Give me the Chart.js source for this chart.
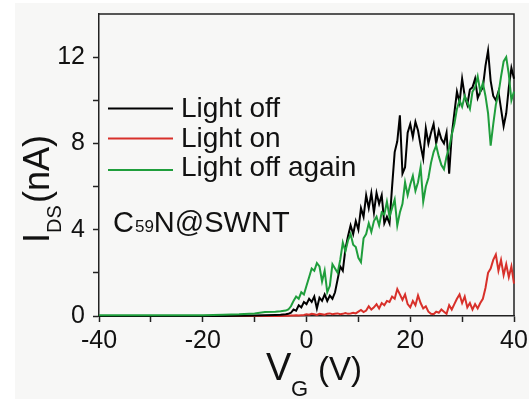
<!DOCTYPE html>
<html><head><meta charset="utf-8">
<script src="https://cdn.jsdelivr.net/npm/chart.js@4.4.1/dist/chart.umd.min.js"></script>
<style>html,body{margin:0;padding:0;background:#fff;overflow:hidden}#wrap{width:529px;height:399px}</style>
</head><body><div id="wrap"><canvas id="c" width="529" height="399"></canvas></div>
<script>
// ---- data ----
const vG = [-40,-35,-30,-25,-20,-16,-13,-10,-8,-6,-5,-4,-3.5,-3,
  -2.5,-2,-1.5,-1,-0.5,0,0.5,1,1.5,2,2.5,3,3.5,4,4.5,5,5.5,6,6.5,7,7.5,8,8.5,9,9.5,10,
  10.5,11,11.5,12,12.5,13,13.5,14,14.5,15,15.5,16,16.5,17,17.5,18,18.5,19,19.5,20,
  20.5,21,21.5,22,22.5,23,23.5,24,24.5,25,25.5,26,26.5,27,27.5,28,28.5,29,29.5,30,
  30.5,31,31.5,32,32.5,33,33.5,34,34.5,35,35.5,36,36.5,37,37.5,38,38.5,39,39.5,40];
const iLightOff = [0,0,0,0,0,0,0.01,0.02,0.03,0.05,0.06,0.08,0.1,0.15,
  0.3,0.25,0.5,0.4,0.65,0.55,0.8,0.65,0.9,0.35,0.85,0.7,1.0,0.7,0.95,0.8,1.1,1.7,2.3,2.1,3.1,3.7,4.2,3.8,4.4,4.0,
  5.0,4.6,5.6,5.0,5.7,4.8,5.7,5.2,5.6,4.3,4.6,4.3,6.0,7.6,8.1,9.3,6.6,6.9,8.5,8.9,
  8.3,9.0,8.6,7.9,7.3,8.7,8.0,8.5,8.9,8.0,8.6,8.2,8.0,8.5,6.6,8.4,9.4,10.4,9.9,11.0,
  10.2,9.8,10.5,10.6,11.0,10.1,10.4,10.6,11.6,12.3,10.9,10.2,10.0,10.4,9.6,8.8,9.4,10.6,11.5,11.0];
const iLightOn = [0,0,0,0,0,0,0,0,0,0,0,0.01,0.01,0.02,
  0.02,0.03,0.02,0.04,0.05,0.08,0.06,0.1,0.08,0.05,0.1,0.08,0.06,0.1,0.12,0.08,0.1,0.12,0.08,0.1,0.14,0.1,0.12,0.15,0.12,0.2,
  0.28,0.18,0.25,0.45,0.3,0.4,0.55,0.35,0.6,0.5,0.7,0.65,0.9,0.8,1.25,1.0,0.75,1.0,0.55,0.4,
  0.7,0.5,0.95,0.6,0.35,0.45,0.2,0.1,0.08,0.2,0.15,0.3,0.2,0.1,0.5,0.3,0.55,0.8,1.0,0.6,
  0.9,0.4,0.6,0.3,0.55,0.35,0.6,0.8,1.3,2.0,2.2,2.6,2.85,2.1,2.6,1.9,2.4,1.8,2.3,1.5];
const iLightOffAgain = [0.03,0.03,0.03,0.03,0.04,0.06,0.08,0.12,0.18,0.2,0.22,0.25,0.3,0.45,
  0.7,0.9,0.8,1.1,1.0,1.4,1.8,2.2,2.1,2.45,2.3,1.6,2.1,1.1,1.4,2.4,2.2,2.0,2.6,3.4,3.0,3.5,3.8,3.3,3.2,2.7,
  2.5,3.6,3.8,4.3,3.9,4.4,4.6,4.2,4.8,4.7,5.3,4.6,5.0,5.4,4.2,4.8,5.2,6.2,5.6,6.1,
  6.5,5.8,6.2,6.9,5.3,6.0,6.4,7.1,7.6,7.9,7.4,7.0,6.8,7.4,7.8,8.4,8.9,9.6,10.0,9.7,
  10.2,9.9,9.6,10.4,10.6,11.1,10.4,10.8,10.2,9.4,7.9,8.9,9.8,10.3,11.1,11.8,12.0,11.2,10.0,10.4];
const seriesNames = ['Light off','Light on','Light off again'];
const seriesColors = ['#000000','#d8302a','#1f9e3c'];
const xMajorTicks = [-40,-20,0,20,40];
const xMinorTicks = [-30,-10,10,30];
const yMajorTicks = [0,4,8,12];
const yMinorTicks = [2,6,10];
const sampleLabel = ['C','59','N@SWNT'];

const FONT = '"Liberation Sans", Arial, Helvetica, sans-serif';
const toPts = ys => vG.map((x,i)=>({x, y: ys[i]}));

const bgPlugin = {
  id:'bg',
  beforeDraw(chart){
    const c = chart.ctx; c.save();
    c.fillStyle = '#ffffff'; c.fillRect(0,0,chart.width,chart.height);
    c.fillStyle = '#f7f7f6'; c.fillRect(15,3,chart.width-15,chart.height-3);
    c.restore();
  }
};
const framePlugin = {
  id:'frame',
  beforeDatasetsDraw(chart){
    const a = chart.chartArea, c = chart.ctx; c.save();
    c.strokeStyle = '#222'; c.lineWidth = 1.5;
    c.beginPath();
    c.moveTo(a.left, a.top); c.lineTo(a.right, a.top); c.lineTo(a.right, a.bottom);
    c.stroke(); c.restore();
  }
};
const textPlugin = {
  id:'texts',
  afterDraw(chart){
    const c = chart.ctx; c.save();
    c.fillStyle = '#111'; c.textBaseline = 'alphabetic'; c.textAlign = 'left';
    // legend
    const legY = [108.5, 138.5, 170];
    const baseY = [116.7, 146.7, 176];
    for (let i=0;i<3;i++){
      c.strokeStyle = seriesColors[i]; c.lineWidth = 2;
      c.beginPath(); c.moveTo(108, legY[i]); c.lineTo(173, legY[i]); c.stroke();
      c.font = '28px ' + FONT; c.fillText(seriesNames[i], 181, baseY[i]);
    }
    // sample label
    let x = 113; const by = 231.5;
    c.font = '29px ' + FONT; c.fillText(sampleLabel[0], x, by); x += c.measureText(sampleLabel[0]).width;
    c.font = '17px ' + FONT; c.fillText(sampleLabel[1], x+1, by); x += c.measureText(sampleLabel[1]).width + 1;
    c.font = '29px ' + FONT; c.fillText(sampleLabel[2], x, by);
    // x title
    c.font = '38px ' + FONT; c.fillText('V', 266, 380);
    c.font = '22px ' + FONT; c.fillText('G', 291, 396);
    c.font = '33px ' + FONT; c.fillText('(V)', 318, 380);
    // y title (rotated)
    c.translate(49, 243); c.rotate(-Math.PI/2);
    c.font = '36px ' + FONT; c.fillText('I', 0, 0);
    c.font = '20px ' + FONT; c.fillText('DS', 10, 12);
    c.font = '36px ' + FONT; c.fillText('(nA)', 40, 0);
    c.restore();
  }
};

const axisCommon = {
  grid:{drawOnChartArea:false, drawTicks:true, tickLength:6, tickWidth:1.5, tickColor:'#222'},
  border:{display:true, color:'#222', width:1.5}
};
new Chart(document.getElementById('c'), {
  type:'line',
  data:{ datasets:[
    {label:seriesNames[0], data:toPts(iLightOff), borderColor:seriesColors[0], borderWidth:2, pointRadius:0, tension:0, order:1, clip:4},
    {label:seriesNames[1], data:toPts(iLightOn), borderColor:seriesColors[1], borderWidth:2, pointRadius:0, tension:0, order:2, clip:4},
    {label:seriesNames[2], data:toPts(iLightOffAgain), borderColor:seriesColors[2], borderWidth:2, pointRadius:0, tension:0, order:0, clip:4}
  ]},
  options:{
    responsive:false, animation:false, devicePixelRatio:1,
    layout:{padding:{top:14, right:15, left:0, bottom:0}},
    plugins:{legend:{display:false}, tooltip:{enabled:false}, title:{display:false}},
    scales:{
      x:{ type:'linear', min:-40, max:40, ...axisCommon,
        afterBuildTicks(s){ s.ticks = [...xMajorTicks, ...xMinorTicks].sort((a,b)=>a-b).map(v=>({value:v})); },
        afterFit(s){ s.height = 83; s.paddingLeft = 0; s.paddingRight = 0; s.paddingTop = 0; s.paddingBottom = 0; },
        ticks:{ autoSkip:false, maxRotation:0, padding:4, color:'#111', font:{family:FONT, size:25},
          callback:v => xMajorTicks.includes(v) ? String(v) : '' } },
      y:{ type:'linear', min:0, max:14, ...axisCommon,
        afterBuildTicks(s){ s.ticks = [...yMajorTicks, ...yMinorTicks].sort((a,b)=>a-b).map(v=>({value:v})); },
        afterFit(s){ s.width = 99; s.paddingLeft = 0; s.paddingRight = 0; s.paddingTop = 0; s.paddingBottom = 0; },
        ticks:{ autoSkip:false, padding:8, color:'#111', font:{family:FONT, size:25},
          callback:v => yMajorTicks.includes(v) ? String(v) : '' } }
    }
  },
  plugins:[bgPlugin, framePlugin, textPlugin]
});
</script></body></html>
